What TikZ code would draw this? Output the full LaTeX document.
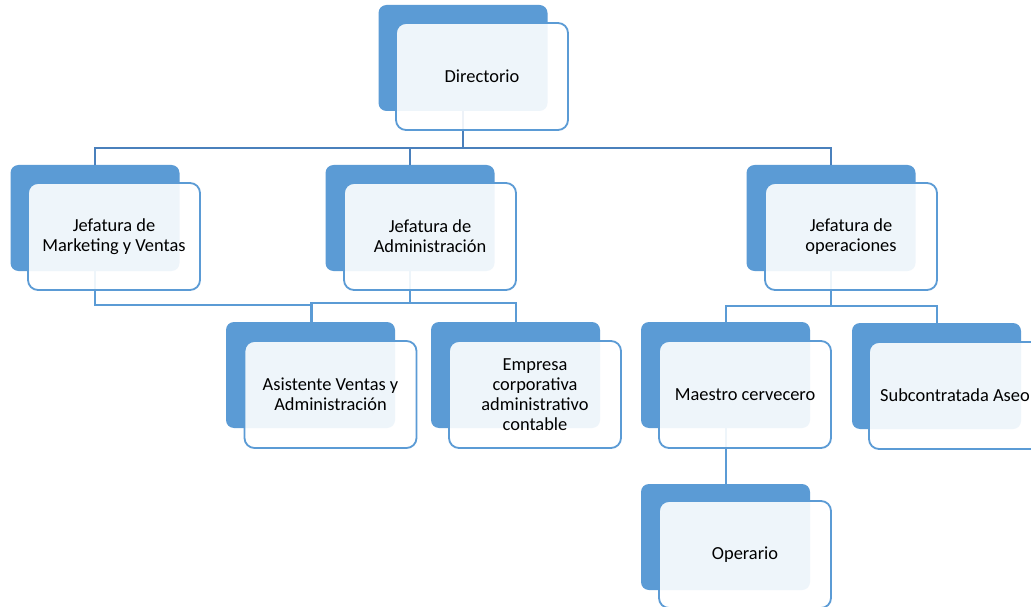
\documentclass[tikz,border=0pt]{standalone}
\usepackage{fontspec}
\setmainfont{Carlito}
\usepackage{tikz}
\usetikzlibrary{positioning}
\definecolor{accent}{HTML}{5B9BD5}
\definecolor{linkdark}{HTML}{4A80BC}
\begin{document}
\begin{tikzpicture}
	[x=1pt, y=-1pt, inner sep=0pt,
	back/.style	= {rectangle, rounded corners=8pt, fill=accent, minimum width=169pt, minimum height=106pt},
	front/.style	= {rectangle, rounded corners=10pt, draw=accent, line width=1.8pt, fill=white, fill opacity=0.9, text opacity=1, minimum width=172pt, minimum height=107pt, align=center, font=\fontsize{18.4}{20}\selectfont},
	link/.style	= {draw=accent, line width=2pt},
	toplink/.style	= {draw=linkdark, line width=2pt}]
	
	\useasboundingbox (0, 0) rectangle (1031, 607);
	\fill [white] (0, 0) rectangle (1031, 607);
	\clip (0, 0) rectangle (1031, 607);
	
	\node at (463, 58)	[back]	(dir0)	{};
	\node at (95, 218)	[back]	(mkt0)	{};
	\node at (410, 218)	[back]	(adm0)	{};
	\node at (831, 218)	[back]	(ope0)	{};
	\node at (310.5, 375)	[back]	(asi0)	{};
	\node at (515.5, 375)	[back]	(emp0)	{};
	\node at (725.5, 375)	[back]	(mae0)	{};
	\node at (936.5, 376)	[back]	(sub0)	{};
	\node at (725.5, 537)	[back]	(opr0)	{};
	
	\draw [toplink] (dir0.south) -- ++(0, 37) -| (mkt0.north);
	\draw [toplink] (dir0.south) -- ++(0, 37) -| (adm0.north);
	\draw [toplink] (dir0.south) -- ++(0, 37) -| (ope0.north);
	\draw [link] (mkt0.south) -- ++(0, 34) -| ([xshift=1pt]asi0.north);
	\draw [link] (adm0.south) -- ++(0, 32) -| (asi0.north);
	\draw [link] (adm0.south) -- ++(0, 32) -| (emp0.north);
	\draw [link] (ope0.south) -- ++(0, 35) -| (mae0.north);
	\draw [link] (ope0.south) -- ++(0, 35) -| (sub0.north);
	\draw [link] (mae0.south) -- (opr0.north);
	
	\node at (482, 76.5)	[front]	(dir)	{Directorio};
	\node at (114, 236.5)	[front]	(mkt)	{Jefatura de\\Marketing y Ventas};
	\node at (430, 236.5)	[front]	(adm)	{Jefatura de\\Administración};
	\node at (851, 236.5)	[front]	(ope)	{Jefatura de\\operaciones};
	\node at (330.5, 394.5)	[front]	(asi)	{Asistente Ventas y\\Administración};
	\node at (535, 394.5)	[front]	(emp)	{Empresa\\corporativa\\administrativo\\contable};
	\node at (745, 394.5)	[front]	(mae)	{Maestro cervecero};
	\node at (955, 395.5)	[front]	(sub)	{Subcontratada Aseo};
	\node at (745, 554.5)	[front]	(opr)	{Operario};
\end{tikzpicture}
\end{document}
